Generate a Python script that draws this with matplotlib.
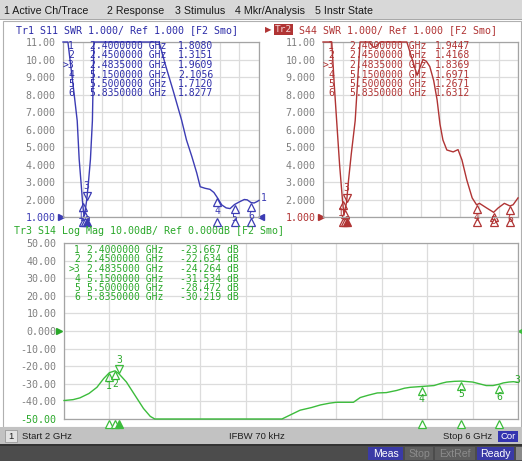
import numpy as np
import matplotlib
matplotlib.use("Agg")
import matplotlib.pyplot as plt
from matplotlib.patches import Rectangle
from matplotlib.transforms import offset_copy, blended_transform_factory

W, H = 522, 461

# traces, frequency in GHz
s11_freq = [2.00, 2.06, 2.10, 2.16, 2.22, 2.29, 2.33, 2.37, 2.40, 2.42, 2.435, 2.45, 2.4835,
            2.52, 2.56, 2.60, 2.63, 3.96, 4.10, 4.25, 4.42, 4.52, 4.63, 4.73, 4.80, 4.90,
            5.00, 5.08, 5.15, 5.24, 5.33, 5.41, 5.50, 5.61, 5.70, 5.76, 5.835, 5.90, 5.96, 6.00]
s11_swr = [11.0, 11.0, 11.0, 9.6, 8.2, 6.5, 4.3, 2.9, 1.808, 1.25, 1.06, 1.3151, 1.9609,
           3.0, 4.3, 6.5, 11.0, 11.0, 9.6, 8.2, 6.54, 5.40, 4.45, 3.51, 2.73, 2.64,
           2.58, 2.40, 2.1056, 1.69, 1.52, 1.48, 1.712, 1.88, 2.0, 1.98, 1.8277, 1.80, 1.88, 1.95]

s44_freq = [2.00, 2.18, 2.23, 2.28, 2.34, 2.40, 2.43, 2.45, 2.4835, 2.52, 2.58, 2.66, 2.76,
            2.95, 3.03, 3.10, 3.17, 3.72, 3.82, 3.93, 4.05, 4.12, 4.19, 4.27, 4.34, 4.40,
            4.46, 4.54, 4.67, 4.77, 4.85, 4.95, 5.06, 5.15, 5.21, 5.36, 5.50, 5.59, 5.72,
            5.835, 5.90, 6.00]
s44_swr = [11.0, 11.0, 8.6, 6.5, 4.0, 1.9447, 1.10, 1.4168, 1.8369, 3.0, 4.6, 6.5, 11.0,
           11.0, 10.7, 10.75, 11.0, 11.0, 10.1, 9.1, 10.0, 9.9, 9.6, 8.8, 7.7, 6.3,
           5.4, 4.83, 4.72, 4.85, 4.26, 3.11, 2.09, 1.6971, 1.78, 1.51, 1.2671, 1.51, 1.78,
           1.6312, 1.70, 2.09]

s14_freq = [2.00, 2.08, 2.14, 2.22, 2.29, 2.35, 2.40, 2.45, 2.4835, 2.55, 2.60, 2.64, 2.70,
            2.76, 2.80, 3.92, 4.00, 4.08, 4.18, 4.26, 4.34, 4.40, 4.48, 4.55, 4.61, 4.68,
            4.76, 4.84, 4.93, 5.00, 5.05, 5.15, 5.26, 5.32, 5.37, 5.44, 5.50, 5.60, 5.66,
            5.72, 5.78, 5.835, 5.87, 5.92, 5.96, 6.00]
s14_db = [-39.5, -39.0, -38.0, -35.5, -32.0, -27.0, -23.667, -22.634, -24.264, -29.0, -34.0,
          -38.0, -44.0, -48.5, -50.0, -50.0, -47.5, -45.0, -43.5, -42.0, -41.0, -40.5, -40.5,
          -40.5, -37.8, -36.5, -35.2, -35.0, -33.8, -32.5, -32.0, -31.534, -31.0, -29.8, -29.0,
          -28.6, -28.472, -29.0, -30.0, -31.0, -31.0, -30.219, -29.5, -29.0, -28.8, -29.2]

marker_freq = [2.40, 2.45, 2.4835, 5.15, 5.50, 5.835]
marker_freq_txt = ["2.4000000", "2.4500000", "2.4835000", "5.1500000", "5.5000000", "5.8350000"]
s11_marker = [1.8080, 1.3151, 1.9609, 2.1056, 1.7120, 1.8277]
s44_marker = [1.9447, 1.4168, 1.8369, 1.6971, 1.2671, 1.6312]
s14_marker = [-23.667, -22.634, -24.264, -31.534, -28.472, -30.219]
active_marker = 2

swr_ticks = ["1.000", "2.000", "3.000", "4.000", "5.000", "6.000", "7.000", "8.000", "9.000", "10.00", "11.00"]
db_ticks = ["-50.00", "-40.00", "-30.00", "-20.00", "-10.00", "0.000", "10.00", "20.00", "30.00", "40.00", "50.00"]

menu_items = ["1 Active Ch/Trace", "2 Response", "3 Stimulus", "4 Mkr/Analysis", "5 Instr State"]
menu_x = [4, 107, 175, 235, 315]

BLUE = "#3c3cb4"
RED = "#b03434"
GREEN = "#3cbc3c"
GREEN_TXT = "#2aa82a"
MONO = "DejaVu Sans Mono"
SANS = "Liberation Sans"

fig = plt.figure(figsize=(W / 100, H / 100), dpi=100)
fig.patch.set_facecolor("white")


def px_box(x0, y0, x1, y1):
    return [x0 / W, 1 - y1 / H, (x1 - x0) / W, (y1 - y0) / H]


def ftext(x, y, s, **kw):
    kw.setdefault("va", "center")
    return fig.text(x / W, 1 - y / H, s, **kw)


def frect(x0, y0, x1, y1, fc, ec="none", lw=0.0, z=-5):
    r = Rectangle((x0 / W, 1 - y1 / H), (x1 - x0) / W, (y1 - y0) / H, transform=fig.transFigure,
                  facecolor=fc, edgecolor=ec, linewidth=lw, zorder=z)
    fig.patches.append(r)


def panel(box, ylo, yhi, labels, color):
    ax = fig.add_axes(px_box(*box))
    ax.set_xlim(2, 6)
    ax.set_ylim(ylo, yhi)
    ax.set_xticks(np.linspace(2, 6, 11))
    ax.set_xticklabels([])
    ax.set_yticks(np.linspace(ylo, yhi, 11))
    ax.set_yticklabels(labels, family=MONO, fontsize=7.2, color="#808080")
    ax.get_yticklabels()[0].set_color(color)
    ax.tick_params(length=0, pad=5.5)
    ax.grid(color="#dcdcdc", lw=0.9)
    ax.set_axisbelow(True)
    for s in ax.spines.values():
        s.set_color("#a4a4a4")
        s.set_linewidth(0.9)
    ax.box_px = box
    # reference level arrows
    bt = blended_transform_factory(ax.transAxes, ax.transData)
    ax.plot([-0.012], [ylo if ylo > 0 else 0.0], marker=">", ms=5, color=color,
            transform=bt, clip_on=False)
    return ax


def draw_markers(ax, values, color, txtcolor):
    below = offset_copy(ax.transData, fig=fig, y=-3.2, units="points")
    above = offset_copy(ax.transData, fig=fig, y=3.2, units="points")
    lab_above = offset_copy(ax.transData, fig=fig, y=10, units="points")
    bt = blended_transform_factory(ax.transData, ax.transAxes)
    ylo, yhi = ax.get_ylim()
    w_px = ax.box_px[2] - ax.box_px[0]
    h_px = ax.box_px[3] - ax.box_px[1]
    # markers 1 and 2 sit almost on top of each other on the narrow panels
    gap = (marker_freq[1] - marker_freq[0]) / 4.0 * w_px
    spread = max(0.0, (6.5 - gap) / 2)
    nudge = [-spread, spread, 0, 0, 0, 0]
    for i, (f, v) in enumerate(zip(marker_freq, values)):
        if i == active_marker:
            ax.plot([f], [v], marker="v", ms=6, mfc="none", mec=color, mew=0.9,
                    transform=above, clip_on=False)
            ax.text(f, v, str(i + 1), transform=lab_above, ha="center", va="center",
                    family=MONO, fontsize=7, color=txtcolor)
        else:
            ax.plot([f], [v], marker="^", ms=6, mfc="none", mec=color, mew=0.9,
                    transform=below, clip_on=False)
            # keep the number from dropping too far under the graticule
            above_px = (v - ylo) / (yhi - ylo) * h_px
            drop = min(13.0, above_px + 4.0)
            lab = offset_copy(ax.transData, fig=fig, x=nudge[i], y=-drop, units="dots")
            ax.text(f, v, str(i + 1), transform=lab, ha="center", va="center",
                    family=MONO, fontsize=7, color=txtcolor)
        ax.plot([f], [-0.028], marker="^", ms=6, mec=color, mew=0.9,
                mfc=color if i == active_marker else "white", transform=bt, clip_on=False)


def marker_table(x_num, x_freq, x_val, y0, values, fmt, unit, color):
    for i, v in enumerate(values):
        y = y0 + i * 9.5
        num = (">" if i == active_marker else "") + str(i + 1)
        ftext(x_num, y, num, ha="right", family=MONO, fontsize=7, color=color)
        ftext(x_freq, y, marker_freq_txt[i] + " GHz", family=MONO, fontsize=7, color=color)
        ftext(x_val, y, fmt.format(v) + unit, family=MONO, fontsize=7, color=color)


# window chrome
frect(0, 0, W, 20, "#d8d8d8")
frect(0, 19.5, W, 20.5, "#a8a8a8")
frect(3, 21, 521, 427, "none", ec="#b0b0b0", lw=0.8)
frect(0, 427, W, 444, "#c2c2c2")
frect(5, 430, 17, 442, "#e2e2e2", ec="#9a9a9a", lw=0.6)
frect(0, 444, W, H, "#4c4c4c")
frect(0, 444, W, 446, "#333333")
frect(498, 431, 518, 442, "#3434b0")
for x0, x1, fc in [(368, 403, "#3a3aa6"), (405, 433, "#5e5e5e"), (435, 475, "#5e5e5e"),
                   (477, 514, "#3a3aa6"), (516, 522, "#8a8a8a")]:
    frect(x0, 447, x1, 460, fc)

for x, s in zip(menu_x, menu_items):
    ftext(x, 10.5, s, family=SANS, fontsize=7.7, color="#1a1a1a")

ftext(11, 436, "1", ha="center", family=SANS, fontsize=6.8, color="#202020")
ftext(22, 436, "Start 2 GHz", family=SANS, fontsize=6.8, color="#202020")
ftext(257, 436, "IFBW 70 kHz", ha="center", family=SANS, fontsize=6.8, color="#202020")
ftext(492, 436, "Stop 6 GHz", ha="right", family=SANS, fontsize=6.8, color="#202020")
ftext(508, 436.5, "Cor", ha="center", family=SANS, fontsize=6.8, color="white")
for xc, s, c in [(385.5, "Meas", "white"), (419, "Stop", "#8c8c8c"),
                 (455, "ExtRef", "#8c8c8c"), (495.5, "Ready", "white")]:
    ftext(xc, 453.5, s, ha="center", family=SANS, fontsize=7.6, color=c)

# Tr1 S11
ax1 = panel((63, 42, 259, 217), 1, 11, swr_ticks, BLUE)
ax1.plot(s11_freq, s11_swr, color=BLUE, lw=1.0, clip_on=False, zorder=3)
ax1.plot([1.012], [1.0], marker="<", ms=5, color=BLUE, clip_on=False,
         transform=blended_transform_factory(ax1.transAxes, ax1.transData))
draw_markers(ax1, s11_marker, BLUE, BLUE)
ax1.annotate("1", (s11_freq[-1], s11_swr[-1]), xytext=(1, 2), textcoords="offset points",
             family=MONO, fontsize=7, color=BLUE, va="center")
ftext(16, 30, "Tr1 S11 SWR 1.000/ Ref 1.000 [F2 Smo]", family=MONO, fontsize=7.2, color="#2c2ca8")
marker_table(74, 90, 178, 46, s11_marker, "{:.4f}", "", "#2c2ca8")

# Tr2 S44
ax2 = panel((323, 42, 518, 217), 1, 11, swr_ticks, RED)
ax2.plot(s44_freq, s44_swr, color=RED, lw=1.0, clip_on=False, zorder=3)
draw_markers(ax2, s44_marker, RED, RED)
ftext(268, 29.5, "\u25b6", ha="center", fontsize=6, color=RED)
frect(274, 24, 293, 35, RED)
ftext(283.5, 29.5, "Tr2", ha="center", family=MONO, fontsize=6.8, color="#f6d6d6")
ftext(299, 30, "S44 SWR 1.000/ Ref 1.000 [F2 Smo]", family=MONO, fontsize=7.2, color=RED)
marker_table(334, 350, 435, 46, s44_marker, "{:.4f}", "", RED)

# Tr3 S14
ax3 = panel((64, 243, 518, 419), -50, 50, db_ticks, GREEN_TXT)
ax3.plot(s14_freq, s14_db, color=GREEN, lw=1.0, clip_on=False, zorder=3)
ax3.plot([1.006], [0.0], marker="<", ms=5, color=GREEN, clip_on=False,
         transform=blended_transform_factory(ax3.transAxes, ax3.transData))
draw_markers(ax3, s14_marker, GREEN, GREEN_TXT)
ax3.annotate("3", (s14_freq[-1], s14_db[-1]), xytext=(-2.5, 2), textcoords="offset points",
             family=MONO, fontsize=7, color=GREEN_TXT, va="center")
ftext(14, 231, "Tr3 S14 Log Mag 10.00dB/ Ref 0.000dB [F2 Smo]", family=MONO, fontsize=7.2,
      color=GREEN_TXT)
marker_table(80, 87, 180, 250, s14_marker, "{:.3f}", " dB", GREEN_TXT)

fig.savefig("out.png", dpi=100)
